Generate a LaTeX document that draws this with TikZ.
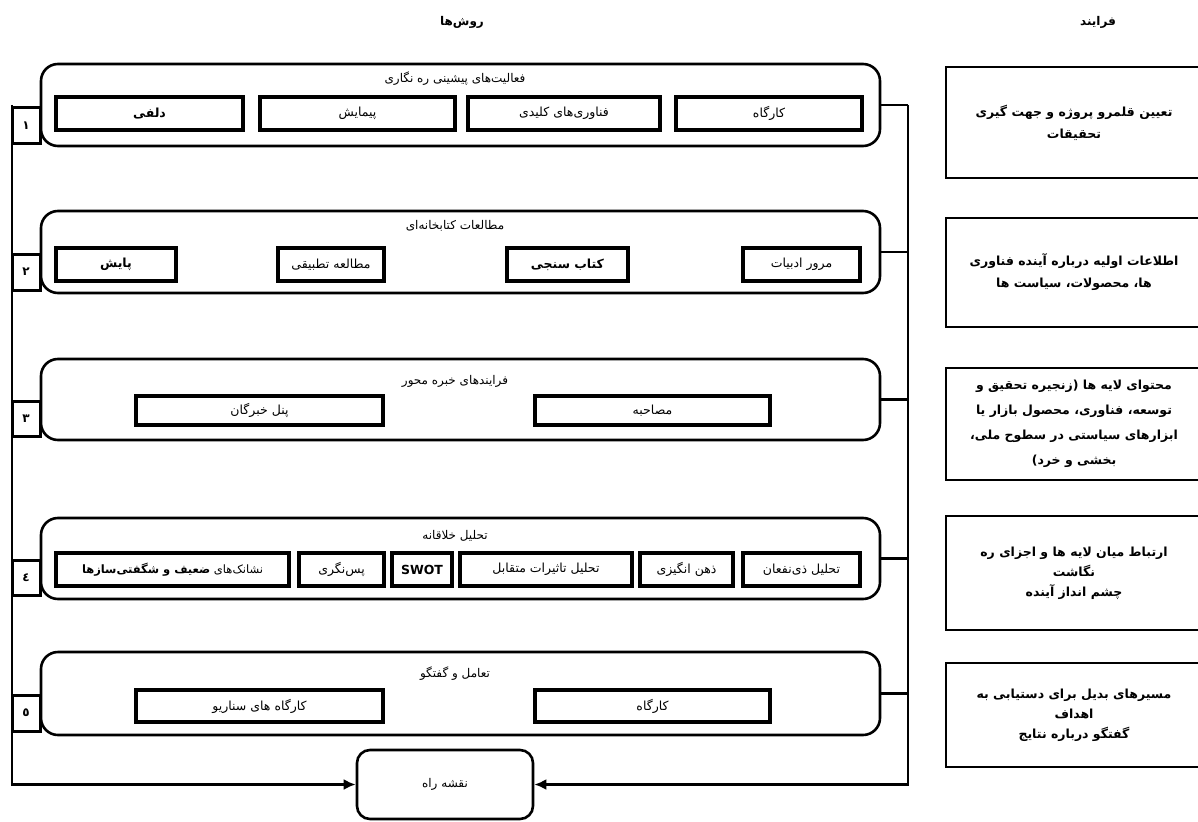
\documentclass[tikz,border=0pt]{standalone}
\usepackage{fontspec}
\usetikzlibrary{arrows.meta}
\TeXXeTstate=1
\newfontfamily\arabicfont[Script=Arabic]{DejaVu Sans}
\newcommand{\fa}[1]{{\arabicfont\beginR #1\endR}}
\newcommand{\fab}[1]{{\arabicfont\bfseries\beginR #1\endR}}
\newcommand{\boxat}[7]{\node[#6, minimum width={#4-#2}, minimum height={#5-#3}] (#1) at ({(#2+#4)/2},{(#3+#5)/2}) {#7};}
\tikzset{
  grp/.style={draw, line width=2.6pt, rounded corners=17pt, inner sep=0pt},
  ibx/.style={draw, line width=3.4pt, inner sep=0pt, font=\fontsize{12.5}{15}\selectfont},
  num/.style={draw, line width=3pt, fill=white, inner sep=0pt, font=\fontsize{12}{14}\selectfont},
  rbx/.style={draw, line width=2.8pt, inner sep=0pt, align=center, font=\fontsize{12.5}{22}\selectfont},
  road/.style={draw, line width=2.6pt, rounded corners=13pt, inner sep=0pt, font=\fontsize{12}{14}\selectfont},
  ttl/.style={inner sep=0pt, font=\fontsize{12}{14}\selectfont},
  hdr/.style={inner sep=0pt, font=\fontsize{12}{14}\selectfont},
  conn/.style={line width=2.4pt},
  arr/.style={line width=2.4pt, -{Latex[length=12pt,width=11pt]}},
}
\begin{document}
\begin{tikzpicture}[x=1pt,y=-1pt]
\useasboundingbox (0,0) rectangle (1198,821);
% headers
\node[hdr] (h1) at (462,22) {\fab{روش‌ها}};
\node[hdr] (h2) at (1098,22) {\fab{فرایند}};
% groups
\boxat{g1}{41}{64}{880}{146}{grp}{}
\boxat{g2}{41}{211}{880}{293}{grp}{}
\boxat{g3}{41}{359}{880}{440}{grp}{}
\boxat{g4}{41}{518}{880}{599}{grp}{}
\boxat{g5}{41}{652}{880}{735}{grp}{}
% titles
\node[ttl] (t1) at (455,79) {\fa{فعالیت‌های پیشینی ره نگاری}};
\node[ttl] (t2) at (455,226) {\fa{مطالعات کتابخانه‌ای}};
\node[ttl] (t3) at (455,381) {\fa{فرایندهای خبره محور}};
\node[ttl] (t4) at (455,536) {\fa{تحلیل خلاقانه}};
\node[ttl] (t5) at (455,674) {\fa{تعامل و گفتگو}};
% row 1
\boxat{a1}{56}{97}{243}{130}{ibx}{\fab{دلفی}}
\boxat{a2}{260}{97}{455}{130}{ibx}{\fa{پیمایش}}
\boxat{a3}{468}{97}{660}{130}{ibx}{\fa{فناوری‌های کلیدی}}
\boxat{a4}{676}{97}{862}{130}{ibx}{\fa{کارگاه}}
% row 2
\boxat{b1}{56}{248}{176}{281}{ibx}{\fab{پایش}}
\boxat{b2}{278}{248}{384}{281}{ibx}{\fa{مطالعه تطبیقی}}
\boxat{b3}{507}{248}{628}{281}{ibx}{\fab{کتاب سنجی}}
\boxat{b4}{743}{248}{860}{281}{ibx}{\fa{مرور ادبیات}}
% row 3
\boxat{c1}{136}{396}{383}{425}{ibx}{\fa{پنل خبرگان}}
\boxat{c2}{535}{396}{770}{425}{ibx}{\fa{مصاحبه}}
% row 4
\boxat{d1}{56}{553}{289}{586}{ibx}{{\fontsize{11.5}{14}\selectfont\arabicfont\beginR نشانک‌های {\bfseries ضعیف و شگفتی‌سازها}\endR}}
\boxat{d2}{299}{553}{384}{586}{ibx}{\fa{پس‌نگری}}
\boxat{d3}{392}{553}{452}{586}{ibx}{{\arabicfont\bfseries SWOT}}
\boxat{d4}{460}{553}{632}{586}{ibx}{\fa{تحلیل تاثیرات متقابل}}
\boxat{d5}{640}{553}{733}{586}{ibx}{\fa{ذهن انگیزی}}
\boxat{d6}{743}{553}{860}{586}{ibx}{\fa{تحلیل ذی‌نفعان}}
% row 5
\boxat{e1}{136}{690}{383}{722}{ibx}{\fa{کارگاه های سناریو}}
\boxat{e2}{535}{690}{770}{722}{ibx}{\fa{کارگاه}}
% roadmap
\boxat{rm}{357}{750}{533}{819}{road}{\fa{نقشه راه}}
% right column
\boxat{p1}{946}{67}{1202}{178}{rbx}{\fab{تعیین قلمرو پروژه و جهت گیری}\\\fab{تحقیقات}}
\boxat{p2}{946}{218}{1202}{327}{rbx}{\fab{اطلاعات اولیه درباره آینده فناوری}\\\fab{ها، محصولات، سیاست ها}}
\boxat{p3}{946}{368}{1202}{480}{rbx, font=\fontsize{12.5}{25}\selectfont}{\fab{محتوای لایه ها (زنجیره تحقیق و}\\\fab{توسعه، فناوری، محصول بازار یا}\\\fab{ابزارهای سیاستی در سطوح ملی،}\\\fab{بخشی و خرد)}}
\boxat{p4}{946}{516}{1202}{630}{rbx, font=\fontsize{12.5}{20}\selectfont}{\fab{ارتباط میان لایه ها و اجزای ره}\\\fab{نگاشت}\\\fab{چشم انداز آینده}}
\boxat{p5}{946}{663}{1202}{767}{rbx, font=\fontsize{12.5}{20}\selectfont}{\fab{مسیرهای بدیل برای دستیابی به}\\\fab{اهداف}\\\fab{گفتگو درباره نتایج}}
% connectors
\coordinate (LT) at (12,105);
\coordinate (RT) at (908,105);
\draw[arr] (LT) |- (rm.west);
\draw[arr] (RT) |- (rm.east);
\draw[conn] (g1.east) -- (g1.east -| RT);
\draw[conn] (g2.east) -- (g2.east -| RT);
\draw[conn] (g3.east) -- (g3.east -| RT);
\draw[conn] (g4.east) -- (g4.east -| RT);
\draw[conn] (g5.east) -- (g5.east -| RT);
% number boxes (on top of the left line)
\boxat{n1}{12}{108}{40}{144}{num}{\fab{١}}
\boxat{n2}{12}{254}{40}{290}{num}{\fab{٢}}
\boxat{n3}{12}{401}{40}{436}{num}{\fab{٣}}
\boxat{n4}{12}{560}{40}{595}{num}{\fab{٤}}
\boxat{n5}{12}{695}{40}{731}{num}{\fab{٥}}
\end{tikzpicture}
\end{document}
